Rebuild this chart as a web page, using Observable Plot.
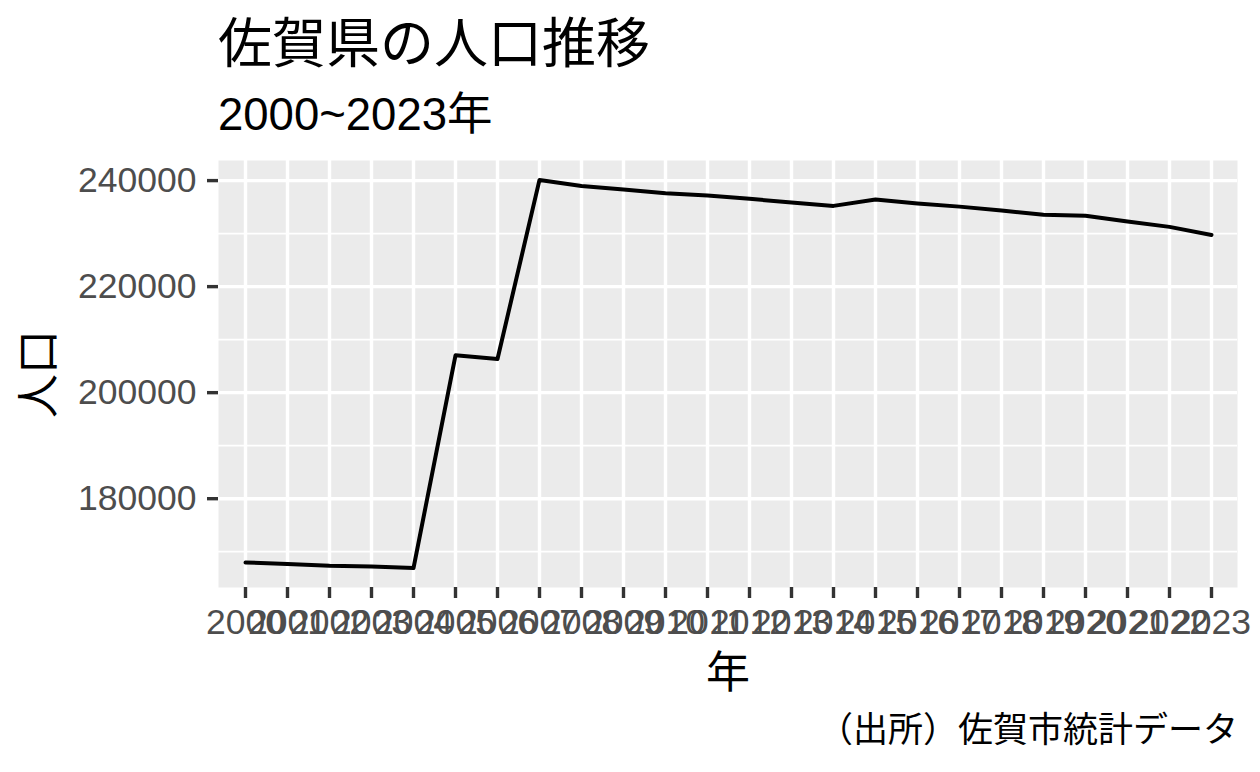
<!DOCTYPE html>
<html><head><meta charset="utf-8">
<script src="https://cdn.jsdelivr.net/npm/d3@7"></script>
<script src="https://cdn.jsdelivr.net/npm/@observablehq/plot@0.6"></script>
<style>
body{margin:0;background:#fff;}
#wrap{position:relative;width:1260px;height:772px;overflow:hidden;font-family:"Liberation Sans","Noto Sans CJK JP",sans-serif;background:#fff;}
.t{position:absolute;white-space:nowrap;line-height:1;color:#000;}
</style></head><body>
<div id="wrap">
<div class="t" id="title" style="left:218px;top:17px;font-size:54px;">佐賀県の人口推移</div>
<div class="t" id="subtitle" style="left:218px;top:91.5px;font-size:45.5px;">2000~2023年</div>
<div id="chart" style="position:absolute;left:0;top:140px;"></div>
<div class="t" id="caption" style="right:22px;top:712px;font-size:35px;">（出所）佐賀市統計データ</div>
</div>
<script>
const years = [2000, 2001, 2002, 2003, 2004, 2005, 2006, 2007, 2008, 2009, 2010, 2011,
               2012, 2013, 2014, 2015, 2016, 2017, 2018, 2019, 2020, 2021, 2022, 2023];
const population = [167970, 167670, 167350, 167220, 166910, 207040, 206350, 240130,
                    239000, 238300, 237600, 237170, 236570, 235870, 235230, 236430,
                    235680, 235090, 234340, 233570, 233380, 232290, 231270, 229740];
const yMajor = [180000, 200000, 220000, 240000];
const yMinor = [170000, 190000, 210000, 230000];

const data = years.map((year, i) => ({year, pop: population[i]}));
const lo = d3.min(population), hi = d3.max(population), pad = (hi - lo) * 0.05;
const ff = "'Liberation Sans','Noto Sans CJK JP',sans-serif";

const chart = Plot.plot({
  width: 1260, height: 560,
  marginTop: 20, marginBottom: 113, marginLeft: 218, marginRight: 23,
  style: {fontFamily: ff, background: "transparent", overflow: "visible"},
  x: {type: "point", domain: years, padding: 0.6},
  y: {domain: [lo - pad, hi + pad]},
  marks: [
    Plot.frame({fill: "#EBEBEB"}),
    Plot.gridY(yMinor, {stroke: "#ffffff", strokeOpacity: 1, strokeWidth: 1.7}),
    Plot.gridY(yMajor, {stroke: "#ffffff", strokeOpacity: 1, strokeWidth: 3.4}),
    Plot.gridX(years, {stroke: "#ffffff", strokeOpacity: 1, strokeWidth: 3.4}),
    Plot.line(data, {x: "year", y: "pop", stroke: "#000000", strokeWidth: 4}),
    Plot.axisY(yMajor, {tickSize: 11, tickPadding: 11, fontSize: 35.5, stroke: "#333333", fill: "#4D4D4D",
      strokeWidth: 3.4, tickFormat: d3.format("d"), label: null}),
    Plot.axisY({ticks: [], tickSize: 0, label: "人口", labelAnchor: "center", labelOffset: 196,
      fontSize: 44, fill: "#000000", labelArrow: "none"}),
    Plot.axisX(years, {tickSize: 11, tickPadding: 10, fontSize: 35.5, stroke: "#333333", fill: "#4D4D4D",
      strokeWidth: 3.4, tickFormat: d => String(d), label: null}),
    Plot.axisX({ticks: [], tickSize: 0, label: "年", labelAnchor: "center", labelOffset: 100,
      fontSize: 44, fill: "#000000", labelArrow: "none"})
  ]
});
document.getElementById("chart").appendChild(chart);
</script>
</body></html>
